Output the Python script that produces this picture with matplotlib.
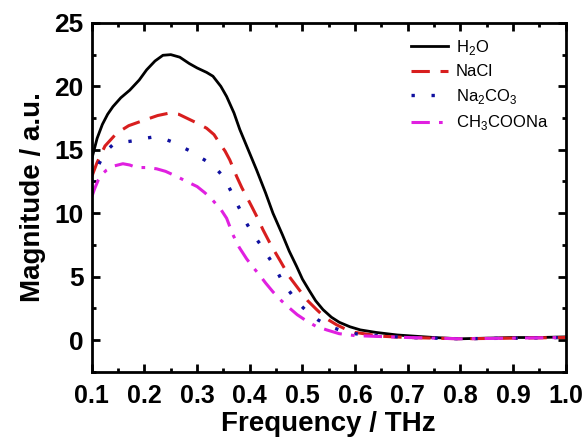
import matplotlib.pyplot as plt
from matplotlib.ticker import MultipleLocator

plt.rcParams['font.family'] = ['Liberation Sans', 'DejaVu Sans']
plt.rcParams['mathtext.fontset'] = 'custom'
plt.rcParams['mathtext.rm'] = 'Liberation Sans'

# frequency (THz) and magnitude (a.u.)
f_h2o = [0.10, 0.11, 0.12, 0.13, 0.14, 0.155, 0.172, 0.19, 0.204, 0.22, 0.235, 0.25,
         0.267, 0.285, 0.30, 0.318, 0.33, 0.345, 0.356, 0.37, 0.381, 0.40, 0.413, 0.43,
         0.444, 0.462, 0.475, 0.489, 0.50, 0.513, 0.525, 0.539, 0.555, 0.57, 0.59, 0.61,
         0.64, 0.68, 0.75, 0.80, 0.85, 0.90, 0.95, 1.0]
m_h2o = [14.3, 15.9, 17.0, 17.8, 18.4, 19.1, 19.7, 20.5, 21.3, 22.0, 22.45, 22.5,
         22.3, 21.8, 21.45, 21.1, 20.8, 20.0, 19.2, 17.9, 16.6, 14.7, 13.4, 11.6,
         10.0, 8.3, 7.0, 5.8, 4.8, 3.9, 3.1, 2.4, 1.8, 1.4, 1.05, 0.8,
         0.6, 0.4, 0.2, 0.1, 0.15, 0.2, 0.2, 0.25]

f_nacl = [0.10, 0.11, 0.125, 0.147, 0.17, 0.197, 0.225, 0.248, 0.265, 0.28, 0.30,
          0.318, 0.332, 0.343, 0.353, 0.362, 0.375, 0.385, 0.394, 0.404, 0.415, 0.425,
          0.44, 0.457, 0.475, 0.495, 0.51, 0.527, 0.545, 0.565, 0.58, 0.60, 0.65,
          0.70, 0.80, 0.90, 1.0]
m_nacl = [12.9, 14.0, 15.3, 16.3, 16.9, 17.3, 17.7, 17.9, 17.8, 17.5, 17.1,
          16.7, 16.2, 15.5, 14.9, 14.2, 12.9, 12.0, 11.3, 10.5, 9.6, 8.7,
          7.5, 6.3, 5.0, 3.9, 3.1, 2.4, 1.7, 1.2, 0.9, 0.6, 0.3,
          0.2, 0.1, 0.15, 0.2]

f_na2co3 = [0.10, 0.108, 0.115, 0.127, 0.14, 0.16, 0.178, 0.20, 0.216, 0.235, 0.254,
            0.272, 0.292, 0.31, 0.33, 0.345, 0.356, 0.366, 0.375, 0.385, 0.394, 0.405,
            0.419, 0.43, 0.441, 0.452, 0.462, 0.476, 0.49, 0.51, 0.529, 0.55, 0.57,
            0.60, 0.62, 0.70, 0.80, 0.90, 1.0]
m_na2co3 = [12.4, 13.3, 14.0, 14.9, 15.4, 15.6, 15.7, 15.9, 16.0, 15.9, 15.6,
            15.2, 14.8, 14.3, 13.8, 13.1, 12.4, 11.6, 10.8, 10.0, 9.2, 8.4,
            7.6, 6.9, 6.2, 5.4, 4.6, 3.8, 3.0, 2.2, 1.6, 1.1, 0.8,
            0.5, 0.4, 0.2, 0.1, 0.15, 0.2]

f_ch3coona = [0.10, 0.105, 0.112, 0.12, 0.128, 0.14, 0.159, 0.172, 0.185, 0.205, 0.223,
              0.24, 0.261, 0.28, 0.30, 0.315, 0.33, 0.345, 0.356, 0.368, 0.38, 0.394,
              0.405, 0.419, 0.43, 0.444, 0.46, 0.476, 0.49, 0.508, 0.525, 0.546, 0.57,
              0.60, 0.70, 0.80, 0.90, 1.0]
m_ch3coona = [11.3, 11.9, 12.6, 13.1, 13.4, 13.7, 13.9, 13.8, 13.6, 13.6, 13.5,
              13.3, 12.9, 12.5, 12.1, 11.6, 11.0, 10.3, 9.6, 8.3, 7.3, 6.4,
              5.8, 5.1, 4.5, 3.8, 3.1, 2.5, 2.0, 1.5, 1.1, 0.8, 0.5,
              0.35, 0.2, 0.1, 0.15, 0.2]

fig = plt.figure(figsize=(5.85, 4.41), dpi=100)
ax = fig.add_axes([0.157, 0.157, 0.81, 0.791])

ax.plot(f_h2o, m_h2o, color='black', lw=2, label='H$_2$O')
ax.plot(f_nacl, m_nacl, color='#d81e1e', lw=2.2, dashes=(6, 3.5), label='NaCl')
ax.plot(f_na2co3, m_na2co3, color='#1010a0', lw=2.4, dashes=(1, 5), label='Na$_2$CO$_3$')
ax.plot(f_ch3coona, m_ch3coona, color='#e020e0', lw=2.2, dashes=(6, 3, 1.2, 3),
        label='CH$_3$COONa')

ax.set_xlim(0.1, 1.0)
ax.set_ylim(-2.5, 25)
ax.xaxis.set_major_locator(MultipleLocator(0.1))
ax.xaxis.set_minor_locator(MultipleLocator(0.05))
ax.yaxis.set_major_locator(MultipleLocator(5))
ax.yaxis.set_minor_locator(MultipleLocator(2.5))
ax.set_xticks([0.1, 0.2, 0.3, 0.4, 0.5, 0.6, 0.7, 0.8, 0.9, 1.0])
ax.set_xticklabels(['0.1', '0.2', '0.3', '0.4', '0.5', '0.6', '0.7', '0.8', '0.9', '1.0'])

ax.tick_params(which='both', direction='in', top=True, right=True, width=2)
ax.tick_params(which='major', length=6)
ax.tick_params(which='minor', length=3)
ax.tick_params(axis='x', labelsize=18, pad=9)
ax.tick_params(axis='y', labelsize=19, pad=6)
for lbl in ax.get_xticklabels() + ax.get_yticklabels():
    lbl.set_fontweight('bold')
for s in ax.spines.values():
    s.set_linewidth(2)

ax.set_xlabel('Frequency / THz', fontsize=20, fontweight='bold', labelpad=2)
ax.set_ylabel('Magnitude / a.u.', fontsize=20, fontweight='bold', labelpad=6)

ax.legend(loc='upper right', frameon=False, fontsize=12, handlelength=2.2,
          handletextpad=0.5, labelspacing=0.45, bbox_to_anchor=(0.995, 1.0))

fig.savefig('out.png', dpi=100)
